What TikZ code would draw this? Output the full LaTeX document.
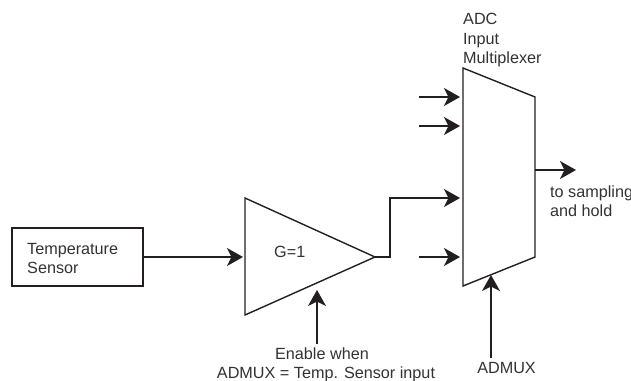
\documentclass[tikz,border=0pt]{standalone}
\usepackage{fontspec}
\setmainfont{Liberation Sans}
\usetikzlibrary{arrows.meta}
\definecolor{ink}{HTML}{231F20}
\definecolor{txt}{HTML}{333132}
\tikzset{
  shapeline/.style={draw=ink,line width=1.4pt,line join=miter},
  wire/.style={draw=ink,line width=1.4pt,-{Stealth[length=16pt,width=18pt,inset=4.5pt]}},
  plainlabel/.style={inner sep=0pt,anchor=base west,text=txt,font=\fontsize{16.2}{19}\selectfont},
  midlabel/.style={inner sep=0pt,anchor=base,text=txt,font=\fontsize{16.2}{19}\selectfont},
}
\begin{document}
\begin{tikzpicture}[x=1pt,y=-1pt]
\useasboundingbox (0,0) rectangle (631,380);
% Sensor block
\node[shapeline,inner sep=0pt,minimum width=131pt,minimum height=58pt,anchor=center] (sensor) at (77.5,257) {};
\node[plainlabel] (senstop) at (27,254) {Temperature};
\node[plainlabel] (sensbot) at (27,273) {Sensor};
% Amplifier
\coordinate (ampa) at (245,198);
\coordinate (ampb) at (245,315);
\coordinate (ampout) at (375,257);
\coordinate (ampin) at (243,257);
\coordinate (ampen) at (317,290);
\draw[shapeline] (ampa) -- (ampout) -- (ampb) -- cycle;
\node[plainlabel] (gain) at (274,257) {G=1};
% Multiplexer
\coordinate (muxa) at (463,68);
\coordinate (muxb) at (535,97);
\coordinate (muxc) at (535,257);
\coordinate (muxd) at (463,286);
\draw[shapeline] (muxa) -- (muxb) -- (muxc) -- (muxd) -- cycle;
% Mux input arrows
\coordinate (ina) at (419,97);   \coordinate (ina2) at (460,97);
\coordinate (inb) at (419,126);  \coordinate (inb2) at (460,126);
\coordinate (inc2) at (460,198);
\coordinate (ind) at (419,257);  \coordinate (ind2) at (460,257);
\coordinate (bend1) at (390,257);
\coordinate (bend2) at (390,198);
\draw[wire] (ina) -- (ina2);
\draw[wire] (inb) -- (inb2);
\draw[wire] (ind) -- (ind2);
\draw[wire] (ampout) -- (bend1) -- (bend2) -- (inc2);
\draw[wire] (sensor.east) -- (ampin);
% Output
\coordinate (outa) at (535,170);
\coordinate (outb) at (576,170);
\draw[wire] (outa) -- (outb);
% Labels
\node[plainlabel] (adc) at (463,24) {ADC};
\node[plainlabel] (inp) at (463,44) {Input};
\node[plainlabel] (mult) at (463,63) {Multiplexer};
\node[plainlabel] (samp) at (550,197) {to sampling};
\node[plainlabel] (hold) at (550,216) {and hold};
\node[midlabel] (en) at (322,359) {Enable when};
\node[midlabel] (ensrc) at (326,378) {ADMUX = Temp. Sensor input};
\node[midlabel] (admux) at (506.5,373) {ADMUX};
% Control arrows
\coordinate (enfoot) at (317,344);
\coordinate (muxfoot) at (491,358);
\coordinate (muxsel) at (491,275);
\draw[wire] (enfoot) -- (ampen);
\draw[wire] (muxfoot) -- (muxsel);
\end{tikzpicture}
\end{document}
